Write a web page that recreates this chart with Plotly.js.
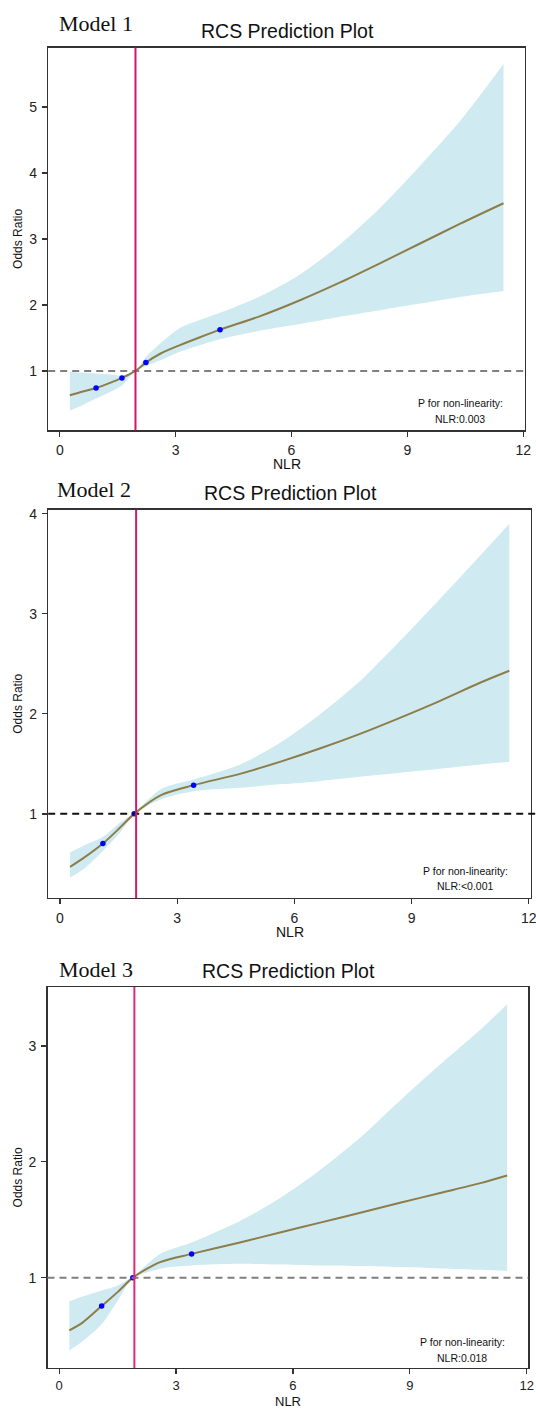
<!DOCTYPE html>
<html>
<head>
<meta charset="utf-8">
<script src="https://cdn.plot.ly/plotly-3.0.1.min.js"></script>
<style>html,body{margin:0;padding:0;background:#fff;}#chart{width:536px;height:1409px;}</style>
</head>
<body>
<div id="chart"></div>
<script>
// ---------- DATA ----------
const modelNames = ['Model 1', 'Model 2', 'Model 3'];
const pValueTexts = ['NLR:0.003', 'NLR:<0.001', 'NLR:0.018'];
const refNLR = [1.96, 1.95, 1.93];
const xTicks = [0, 3, 6, 9, 12];

// Model 1
const nlr1 = [0.26, 0.6, 0.94, 1.3, 1.61, 1.96, 2.23, 2.6, 3.11, 3.63, 4.15, 5.19, 6.22, 7.26, 8.29, 9.33, 10.37, 11.49];
const or1  = [0.63, 0.687, 0.74, 0.818, 0.894, 1.0, 1.126, 1.26, 1.39, 1.51, 1.625, 1.83, 2.07, 2.34, 2.63, 2.93, 3.23, 3.54];
const up1  = [0.985, 0.975, 0.96, 0.945, 0.93, 1.0, 1.21, 1.415, 1.65, 1.77, 1.88, 2.13, 2.46, 2.92, 3.47, 4.11, 4.79, 5.65];
const lo1  = [0.40, 0.485, 0.58, 0.68, 0.78, 1.0, 1.07, 1.16, 1.29, 1.39, 1.48, 1.61, 1.71, 1.82, 1.92, 2.02, 2.12, 2.21];
const ptX1 = [0.94, 1.61, 2.23, 4.15];
const ptY1 = [0.74, 0.894, 1.126, 1.625];
const yTicks1 = [1, 2, 3, 4, 5];

// Model 2
const nlr2 = [0.26, 0.6, 1.1, 1.54, 1.9, 2.6, 3.42, 4.61, 5.63, 6.65, 7.68, 8.7, 9.73, 10.75, 11.5];
const or2  = [0.47, 0.557, 0.703, 0.863, 1.0, 1.19, 1.287, 1.40, 1.52, 1.653, 1.80, 1.96, 2.13, 2.31, 2.43];
const up2  = [0.613, 0.68, 0.77, 0.913, 1.01, 1.25, 1.343, 1.493, 1.71, 1.993, 2.327, 2.727, 3.15, 3.58, 3.90];
const lo2  = [0.363, 0.447, 0.63, 0.813, 0.99, 1.148, 1.227, 1.26, 1.295, 1.327, 1.37, 1.41, 1.45, 1.493, 1.52];
const ptX2 = [1.1, 1.9, 3.42];
const ptY2 = [0.703, 1.0, 1.287];
const yTicks2 = [1, 2, 3, 4];

// Model 3
const nlr3 = [0.26, 0.6, 1.09, 1.5, 1.89, 2.59, 3.4, 4.64, 5.67, 6.7, 7.73, 8.75, 9.78, 10.81, 11.5];
const or3  = [0.545, 0.612, 0.755, 0.875, 1.0, 1.134, 1.205, 1.304, 1.39, 1.475, 1.56, 1.646, 1.731, 1.816, 1.882];
const up3  = [0.796, 0.837, 0.889, 0.933, 1.01, 1.205, 1.304, 1.489, 1.688, 1.93, 2.21, 2.53, 2.84, 3.14, 3.36];
const lo3  = [0.37, 0.45, 0.597, 0.80, 0.99, 1.077, 1.105, 1.119, 1.114, 1.105, 1.10, 1.091, 1.08, 1.068, 1.057];
const ptX3 = [1.09, 1.89, 3.4];
const ptY3 = [0.755, 1.0, 1.205];
const yTicks3 = [1, 2, 3];

// ---------- LAYOUT / STYLE ----------
const W = 536, H = 1409;
const sans = 'Liberation Sans, Arial, sans-serif';
const serif = 'Liberation Serif, Times New Roman, serif';
const panels = [
  {x: nlr1, y: or1, up: up1, lo: lo1, px: ptX1, py: ptY1, yt: yTicks1,
   box: [48.2, 525.1, 47.5, 430.3], xr: [-0.30, 12.05], yr: [0.10, 5.90], dashRight: 525.1,
   dashCol: '#7f7f7f', vCol: '#d1156a', titleXY: [287, 31], modelXY: [57, 23], pXY: [460, 402.6, 418.6],
   nlrY: 464, nlrSize: 14, standoff: 2, xtSize: 14},
  {x: nlr2, y: or2, up: up2, lo: lo2, px: ptX2, py: ptY2, yt: yTicks2,
   box: [48.2, 530.8, 509.7, 897.9], xr: [-0.30, 12.05], yr: [0.16, 4.04], dashRight: 536,
   dashCol: '#111111', vCol: '#d9166f', titleXY: [290, 493], modelXY: [54.5, 489], pXY: [465, 871.3, 886],
   nlrY: 932, nlrSize: 14, standoff: 2, xtSize: 14},
  {x: nlr3, y: or3, up: up3, lo: lo3, px: ptX3, py: ptY3, yt: yTicks3,
   box: [47.5, 528.2, 986.9, 1368], xr: [-0.30, 12.04], yr: [0.22, 3.51], dashRight: 528.2,
   dashCol: '#7f7f7f', vCol: '#dc2a7f', titleXY: [288, 971], modelXY: [57, 969], pXY: [462, 1342, 1357.5],
   nlrY: 1401.5, nlrSize: 13, standoff: 0, xtSize: 13}
];

const traces = [];
const layout = {
  width: W, height: H, margin: {l: 0, r: 0, t: 0, b: 0},
  paper_bgcolor: '#ffffff', plot_bgcolor: '#ffffff',
  showlegend: false, shapes: [], annotations: [],
  font: {family: sans, color: '#222'}
};

panels.forEach((p, i) => {
  const k = i === 0 ? '' : String(i + 1);
  const xa = 'x' + k, ya = 'y' + k;
  traces.push({x: p.x, y: p.lo, xaxis: xa, yaxis: ya, type: 'scatter', mode: 'lines',
    line: {width: 0, shape: 'spline', smoothing: 0.8, color: 'rgba(0,0,0,0)'}, hoverinfo: 'skip'});
  traces.push({x: p.x, y: p.up, xaxis: xa, yaxis: ya, type: 'scatter', mode: 'lines',
    line: {width: 0, shape: 'spline', smoothing: 0.8, color: 'rgba(0,0,0,0)'}, fill: 'tonexty', fillcolor: '#cfebf1', hoverinfo: 'skip'});
  traces.push({x: p.x, y: p.y, xaxis: xa, yaxis: ya, type: 'scatter', mode: 'lines',
    line: {width: 2, shape: 'spline', smoothing: 0.8, color: '#8c7d4b'}});
  traces.push({x: p.px, y: p.py, xaxis: xa, yaxis: ya, type: 'scatter', mode: 'markers',
    marker: {size: 5.5, color: '#0000ff'}});

  const [l, r, t, b] = p.box;
  layout['xaxis' + k] = {
    domain: [l / W, r / W], anchor: ya, range: p.xr, tickvals: xTicks, ticktext: xTicks.map(String),
    showgrid: false, zeroline: false, showline: true, linecolor: '#333', linewidth: 1.3, mirror: true,
    ticks: 'outside', ticklen: 5, tickwidth: 1.3, tickcolor: '#333', ticklabelstandoff: p.standoff,
    ticklabeloverflow: 'allow', tickfont: {family: sans, size: p.xtSize, color: '#222'}, fixedrange: true
  };
  layout['yaxis' + k] = {
    domain: [1 - b / H, 1 - t / H], anchor: xa, range: p.yr, tickvals: p.yt, ticktext: p.yt.map(String),
    showgrid: false, zeroline: false, showline: true, linecolor: '#333', linewidth: 1.3, mirror: true,
    ticks: 'outside', ticklen: 5, tickwidth: 1.3, tickcolor: '#333', ticklabelstandoff: 2,
    tickfont: {family: sans, size: 14, color: '#222'}, fixedrange: true
  };
  layout.shapes.push({type: 'line', xref: 'paper', yref: ya, x0: l / W, x1: p.dashRight / W, y0: 1, y1: 1,
    line: {color: p.dashCol, width: 2, dash: '7px,5px'}, layer: 'above'});
  layout.shapes.push({type: 'line', xref: xa, yref: ya + ' domain', x0: refNLR[i], x1: refNLR[i], y0: 0, y1: 1,
    line: {color: p.vCol, width: 2}, layer: 'above'});

  const ann = (txt, xpx, ypx, size, fam, extra) => Object.assign({
    text: txt, xref: 'paper', yref: 'paper', x: xpx / W, y: 1 - ypx / H,
    xanchor: 'center', yanchor: 'middle', showarrow: false,
    font: {family: fam, size: size, color: '#111'}
  }, extra || {});
  layout.annotations.push(ann('RCS Prediction Plot', p.titleXY[0], p.titleXY[1], 19.5, sans));
  layout.annotations.push(ann(modelNames[i], p.modelXY[0], p.modelXY[1], 22, serif, {xanchor: 'left'}));
  layout.annotations.push(ann('P for non-linearity:', p.pXY[0], p.pXY[1], 10.5, sans));
  layout.annotations.push(ann(pValueTexts[i], p.pXY[0], p.pXY[2], 10.5, sans));
  layout.annotations.push(ann('NLR', (l + r) / 2, p.nlrY, p.nlrSize, sans));
  layout.annotations.push(ann('Odds Ratio', 18, (t + b) / 2, 12, sans, {textangle: -90}));
});

Plotly.newPlot('chart', traces, layout, {displayModeBar: false, staticPlot: true});
</script>
</body>
</html>
